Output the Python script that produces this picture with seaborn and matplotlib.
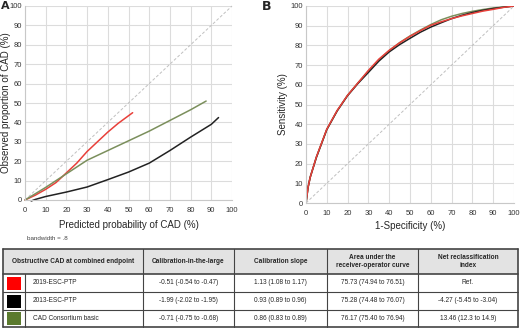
import matplotlib
matplotlib.use("Agg")
from matplotlib import pyplot as plt
import pandas as pd
import seaborn as sns

# panel A: calibration curves
cal_red_x = [0, 5, 10, 15, 20, 25, 30, 35, 40, 45, 52]
cal_red_y = [0, 2.5, 5.5, 9, 14, 19, 25, 30, 35, 39.5, 45]
cal_green_x = [0, 10, 20, 30, 40, 50, 60, 70, 80, 87.5]
cal_green_y = [0, 6.5, 13.5, 20.5, 25.5, 30.5, 35.5, 41, 46.5, 51]
cal_black_x = [3, 5, 10, 20, 30, 40, 50, 60, 70, 80, 90, 93.5]
cal_black_y = [-0.5, 0.3, 1.8, 4.1, 6.7, 10.5, 14.4, 19, 25.5, 32.4, 39, 42.5]

# panel B: ROC curves
fpr = [0, 1, 2, 5, 10, 15, 20, 25, 30, 35, 40, 45, 50, 55, 60, 65, 70, 75, 80, 85, 90, 95, 100]
roc_red = [0, 8, 13, 23.4, 37.5, 47, 54.7, 61, 67.3, 73, 77.5, 81.3, 84.6, 87.5, 90.2, 92, 93.6, 95, 96.2, 97.4, 98.3, 99.3, 100]
roc_black = [0, 8, 13, 23.2, 37.3, 46.8, 54.5, 60.7, 66.3, 72, 76.7, 80.4, 83.6, 86.7, 89.3, 91.5, 93.6, 95.3, 96.7, 97.8, 98.7, 99.4, 100]
roc_green = [0, 8, 13, 23.2, 37.3, 46.8, 54.7, 61, 67, 72.6, 77.4, 81.4, 84.8, 87.8, 90.6, 93, 94.8, 96.2, 97.3, 98.2, 99, 99.5, 100]

# table
models = ["2019-ESC-PTP", "2013-ESC-PTP", "CAD Consortium basic"]
swatches = ["#ff0000", "#000000", "#5b7a2e"]
line_colors = ["#e8403a", "#222222", "#7b8f5c"]
headers = ["Obstructive CAD at combined endpoint", "Calibration-in-the-large", "Calibration slope",
           "Area under the\nreceiver-operator curve", "Net reclassification\nindex"]
citl = ["-0.51 (-0.54 to -0.47)", "-1.99 (-2.02 to -1.95)", "-0.71 (-0.75 to -0.68)"]
slope = ["1.13 (1.08 to 1.17)", "0.93 (0.89 to 0.96)", "0.86 (0.83 to 0.89)"]
auc = ["75.73 (74.94 to 76.51)", "75.28 (74.48 to 76.07)", "76.17 (75.40 to 76.94)"]
nri = ["Ref.", "-4.27 (-5.45 to -3.04)", "13.46 (12.3 to 14.9)"]

sns.set_style("whitegrid", {"grid.color": "#dcdcdc", "axes.edgecolor": "#c8c8c8"})
plt.rcParams['font.family'] = ['Liberation Sans', 'DejaVu Sans']

fig = plt.figure(figsize=(5.2, 3.29), dpi=100)
W, H = 520, 329


def setup(ax):
    ax.set_xlim(0, 100)
    ax.set_ylim(0, 100)
    ax.set_xticks(range(0, 101, 10))
    ax.set_yticks(range(0, 101, 10))
    ax.tick_params(labelsize=5.5, colors="#333333", length=0)
    ax.tick_params(axis="x", pad=5)
    ax.tick_params(axis="y", pad=2)
    ax.grid(True, lw=0.8)
    for s in ["top", "right"]:
        ax.spines[s].set_visible(False)
    ax.plot([0, 100], [0, 100], ls=(0, (3, 2)), color="#c0c0c0", lw=0.7)


axA = fig.add_axes([25 / W, 1 - 200 / H, 207 / W, 194 / H])
setup(axA)
calA = pd.concat([
    pd.DataFrame({"x": cal_red_x, "y": cal_red_y, "m": models[0]}),
    pd.DataFrame({"x": cal_black_x, "y": cal_black_y, "m": models[1]}),
    pd.DataFrame({"x": cal_green_x, "y": cal_green_y, "m": models[2]}),
])
sns.lineplot(data=calA, x="x", y="y", hue="m", palette=dict(zip(models, line_colors)),
             sort=False, lw=1.1, legend=False, ax=axA)
for ln in axA.lines:
    ln.set_clip_on(False)
axA.set_xlabel("Predicted probability of CAD (%)", fontsize=7)
axA.set_ylabel("Observed proportion of CAD (%)", fontsize=7)
axA.xaxis.set_label_coords(0.5, -0.105)
axA.yaxis.set_label_coords(-0.07, 0.5)

axB = fig.add_axes([306 / W, 1 - 203 / H, 208 / W, 197 / H])
setup(axB)
rocB = pd.DataFrame({"fpr": fpr * 3, "sens": roc_green + roc_black + roc_red,
                     "m": [models[2]] * len(fpr) + [models[1]] * len(fpr) + [models[0]] * len(fpr)})
sns.lineplot(data=rocB, x="fpr", y="sens", hue="m", palette=dict(zip(models, line_colors)),
             hue_order=[models[2], models[1], models[0]], sort=False, lw=1.1, legend=False, ax=axB)
axB.set_xlabel("1-Specificity (%)", fontsize=7)
axB.set_ylabel("Sensitivity (%)", fontsize=7)
axB.xaxis.set_label_coords(0.5, -0.09)
axB.yaxis.set_label_coords(-0.085, 0.5)

fig.text(1 / W, 1 - 6 / H, "A", fontsize=8, fontweight="bold", family="DejaVu Sans", va="center")
fig.text(262 / W, 1 - 7 / H, "B", fontsize=9, fontweight="bold", family="DejaVu Sans", va="center")
fig.text(27 / W, 1 - 239 / H, "bandwidth = .8", fontsize=4.5, color="#444444", va="center")

# table drawn in pixel coordinates
tab = fig.add_axes([0, 0, 1, 1], facecolor="none")
tab.set_xlim(0, W)
tab.set_ylim(H, 0)
tab.axis("off")
cols = [3, 143, 234, 327, 418, 518]
rows = [249, 274, 292, 310, 327]
tab.add_patch(plt.Rectangle((cols[0], rows[0]), cols[-1] - cols[0], rows[1] - rows[0],
                            facecolor="#e3e3e3", edgecolor="none"))
for y in rows:
    lw = 1.2 if y in (rows[0], rows[1], rows[-1]) else 0.8
    tab.plot([cols[0], cols[-1]], [y, y], color="#444444", lw=lw)
for x in cols:
    lw = 1.2 if x in (cols[0], cols[-1]) else 0.8
    tab.plot([x, x], [rows[0], rows[-1]], color="#444444", lw=lw)
for i in range(3):
    tab.plot([25, 25], [rows[i + 1], rows[i + 2]], color="#444444", lw=0.8)

hy = (rows[0] + rows[1]) / 2
for j, h in enumerate(headers):
    tab.text((cols[j] + cols[j + 1]) / 2, hy, h, ha="center", va="center", fontsize=4.7,
             fontweight="bold", linespacing=1.15)
for i in range(3):
    cy = (rows[i + 1] + rows[i + 2]) / 2
    tab.add_patch(plt.Rectangle((7, cy - 6.5), 14, 13, facecolor=swatches[i], edgecolor="none"))
    tab.text(33, cy, models[i], ha="left", va="center", fontsize=4.7)
    for j, vals in enumerate([citl, slope, auc, nri]):
        tab.text((cols[j + 1] + cols[j + 2]) / 2, cy, vals[i], ha="center", va="center",
                 fontsize=4.7)

plt.savefig("out.png", dpi=100)
